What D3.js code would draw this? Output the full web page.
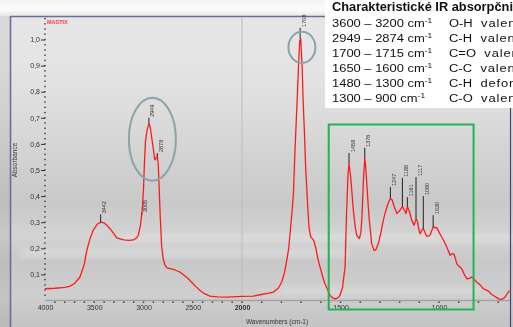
<!DOCTYPE html>
<html>
<head>
<meta charset="utf-8">
<script src="https://cdn.jsdelivr.net/npm/d3@7"></script>
<style>
    body { margin: 0; background: #fff; }
    svg { display: block; font-family: "Liberation Sans", Arial, sans-serif; }
</style>
</head>
<body>
<svg id="chart" width="513" height="327"></svg>
<script>
    // spectrum: wavenumber (cm-1) / absorbance
    var spectrumWn = [4000, 3900, 3800, 3750, 3700, 3645, 3600, 3577, 3540, 3510, 3470, 3435, 3400, 3370, 3340,
        3300, 3272, 3200, 3150, 3103, 3070, 3053, 3030, 3018, 3008, 3000, 2990, 2980, 2965, 2950, 2940, 2930,
        2915, 2900, 2888, 2883, 2870, 2860, 2850, 2840, 2830, 2815, 2800, 2782, 2760, 2731, 2690, 2650, 2629,
        2590, 2550, 2511, 2470, 2426, 2380, 2325, 2250, 2155, 2050, 2000, 1943, 1909, 1870, 1841, 1815, 1799,
        1785, 1773, 1763, 1756, 1745, 1739, 1731, 1720, 1712, 1707, 1702, 1695, 1690, 1683, 1677, 1668, 1660,
        1651, 1643, 1635, 1625, 1615, 1604, 1590, 1579, 1565, 1553, 1540, 1528, 1515, 1503, 1490, 1477, 1469,
        1462, 1457, 1448, 1435, 1425, 1418, 1404, 1397, 1392, 1383, 1377, 1373, 1367, 1360, 1354, 1342, 1330,
        1320, 1308, 1295, 1283, 1270, 1262, 1254, 1247, 1238, 1228, 1214, 1205, 1198, 1186, 1175, 1168, 1161,
        1150, 1139, 1127, 1117, 1110, 1102, 1096, 1086, 1080, 1068, 1062, 1052, 1046, 1036, 1030, 1018, 1012,
        1000, 992, 975, 961, 950, 944, 932, 924, 915, 910, 897, 885, 872, 859, 846, 834, 820, 808, 790, 775,
        760, 749, 736, 724, 705, 690, 678, 665, 655, 643];
    var spectrumAbs = [0.045, 0.047, 0.05, 0.054, 0.065, 0.09, 0.14, 0.19, 0.24, 0.27, 0.292, 0.3, 0.297, 0.288, 0.275,
        0.255, 0.24, 0.232, 0.23, 0.232, 0.24, 0.25, 0.29, 0.33, 0.37, 0.43, 0.53, 0.61, 0.65, 0.672, 0.675, 0.66,
        0.62, 0.58, 0.545, 0.538, 0.548, 0.554, 0.52, 0.42, 0.32, 0.205, 0.16, 0.135, 0.125, 0.122, 0.118, 0.112, 0.109,
        0.097, 0.085, 0.07, 0.054, 0.038, 0.026, 0.017, 0.014, 0.013, 0.015, 0.016, 0.017, 0.022, 0.027, 0.032, 0.048, 0.07,
        0.105, 0.154, 0.2, 0.256, 0.35, 0.41, 0.577, 0.77, 0.92, 0.995, 1.002, 0.9, 0.77, 0.64, 0.51, 0.38, 0.28,
        0.243, 0.237, 0.228, 0.2, 0.16, 0.128, 0.09, 0.064, 0.04, 0.019, 0.01, 0.006, 0.009, 0.019, 0.05, 0.128, 0.346,
        0.48, 0.526, 0.47, 0.346, 0.28, 0.25, 0.237, 0.26, 0.308, 0.474, 0.545, 0.52, 0.449, 0.37, 0.308, 0.218, 0.192,
        0.195, 0.218, 0.26, 0.308, 0.345, 0.365, 0.38, 0.391, 0.385, 0.36, 0.333, 0.34, 0.346, 0.36, 0.345, 0.333, 0.36,
        0.34, 0.308, 0.288, 0.31, 0.305, 0.27, 0.256, 0.27, 0.276, 0.255, 0.246, 0.248, 0.25, 0.27, 0.282, 0.278, 0.28,
        0.262, 0.25, 0.228, 0.205, 0.185, 0.173, 0.18, 0.177, 0.155, 0.141, 0.13, 0.122, 0.1, 0.083, 0.085, 0.09, 0.08, 0.07, 0.058, 0.045,
        0.04, 0.036, 0.025, 0.019, 0.01, 0.003, 0.006, 0.013, 0.025, 0.038];

    // peak labels: text, peak absorbance, top of the label line
    var peakNames = ["3442", "3005", "2949", "2878", "1708", "1458", "1376", "1247", "1186", "1161", "1117", "1080", "1030"];
    var peakWn = [3435, 3018, 2945, 2860, 1705, 1457, 1377, 1247, 1186, 1161, 1117, 1080, 1030];
    var peakAbs = [0.3, 0.33, 0.675, 0.554, 1.002, 0.526, 0.545, 0.391, 0.36, 0.36, 0.31, 0.276, 0.282];
    var peakTop = [0.33, 0.335, 0.70, 0.565, 1.045, 0.565, 0.585, 0.435, 0.47, 0.396, 0.473, 0.40, 0.327];

    var xTicks = [4000, 3500, 3000, 2500, 2000, 1500, 1000];
    var yTicks = [0.1, 0.2, 0.3, 0.4, 0.5, 0.6, 0.7, 0.8, 0.9, 1.0];

    var tableTitle = "Charakteristické IR absorpčni pásy";
    var tableRanges = ["3600 – 3200", "2949 – 2874", "1700 – 1715", "1650 – 1600", "1480 – 1300", "1300 – 900"];
    var tableGroups = ["O-H", "C-H", "C=O", "C-C", "C-H", "C-O"];
    var tableModes = ["valenční", "valenční", "valenční", "valenční", "deformační", "valenční"];

    var svg = d3.select("#chart");
    var W = 513, H = 327;

    // background, grey slide look
    var defs = svg.append("defs");
    var grad = defs.append("linearGradient").attr("id", "bg")
        .attr("x1", 0).attr("y1", 0).attr("x2", 0).attr("y2", 1);
    [[0, "#f3f3f3"], [0.03, "#fbfbfb"], [0.05, "#e6e6e6"], [0.2, "#e4e4e4"], [0.35, "#dcdcdc"],
     [0.5, "#d1d1d1"], [0.62, "#c9c9c9"], [0.72, "#d3d3d3"], [0.8, "#c8c8c8"], [0.9, "#cfcfcf"], [1, "#c3c3c3"]]
        .forEach(function(s){
            grad.append("stop").attr("offset", s[0]).attr("stop-color", s[1]);
        });
    defs.append("filter").attr("id", "blur").append("feGaussianBlur").attr("stdDeviation", 3);

    svg.append("rect").attr("width", W).attr("height", H).attr("fill", "url(#bg)");
    svg.append("rect").attr("x", 0).attr("y", 16).attr("width", 10).attr("height", H - 16)
        .attr("fill", "#000").attr("opacity", 0.05);

    // soft light streaks
    var streaks = [[20, 250, 330, 6], [120, 236, 420, 5], [280, 288, 200, 4]];
    svg.append("g").attr("filter", "url(#blur)").selectAll("rect")
        .data(streaks).enter().append("rect")
        .attr("x", function(d){ return d[0]; })
        .attr("y", function(d){ return d[1]; })
        .attr("width", function(d){ return d[2]; })
        .attr("height", function(d){ return d[3]; })
        .attr("fill", "#fff").attr("opacity", 0.35);

    // frame
    svg.append("line").attr("x1", 10.5).attr("x2", 10.5).attr("y1", 16).attr("y2", H)
        .attr("stroke", "#6d6d9c").attr("stroke-width", 1.6);
    svg.append("line").attr("x1", 10).attr("x2", 330).attr("y1", 16.5).attr("y2", 16.5)
        .attr("stroke", "#6d6d9c").attr("stroke-width", 1.6);
    svg.append("line").attr("x1", 510.5).attr("x2", 510.5).attr("y1", 100).attr("y2", H)
        .attr("stroke", "#45457a").attr("stroke-width", 1.2);

    // scales, x has the usual FTIR scale change at 2000
    var x = d3.scaleLinear().domain([4000, 2000, 640]).range([45, 242, 510]);
    var y = d3.scaleLinear().domain([0, 1]).range([300.5, 39.5]);

    svg.append("line").attr("x1", x(2000)).attr("x2", x(2000)).attr("y1", 17).attr("y2", H)
        .attr("stroke", "#bdbdbd").attr("stroke-width", 1);

    // x axis
    svg.append("line").attr("x1", 45).attr("x2", 510).attr("y1", 300.5).attr("y2", 300.5)
        .attr("stroke", "#a3a3a3").attr("stroke-width", 1.5);
    svg.append("g").selectAll("rect")
        .data(d3.range(3900, 640, -100)).enter().append("rect")
        .attr("x", function(d){ return x(d) - 0.7; })
        .attr("y", 301.5).attr("width", 1.4).attr("height", 1.4)
        .attr("fill", "#333");

    var xAxis = svg.append("g").attr("transform", "translate(0,301)")
        .call(d3.axisBottom(x).tickValues(xTicks).tickSize(0).tickPadding(4).tickFormat(d3.format("d")));
    xAxis.select(".domain").remove();
    xAxis.selectAll("text").attr("font-size", 7).attr("fill", "#333")
        .attr("font-family", "Liberation Sans, Arial, sans-serif")
        .attr("font-weight", function(d){ return d === 2000 ? "bold" : "normal"; });

    // y axis
    var comma = d3.formatLocale({decimal: ",", thousands: ".", grouping: [3], currency: ["", ""]}).format(".1f");
    svg.append("g").selectAll("rect")
        .data(d3.range(1, 55)).enter().append("rect")
        .attr("x", 44.3).attr("width", 1.4).attr("height", 1.4)
        .attr("y", function(d){ return y(d * 0.02) - 0.7; })
        .attr("fill", "#333");
    var yAxis = svg.append("g").attr("transform", "translate(45,0)")
        .call(d3.axisLeft(y).tickValues(yTicks).tickSize(4).tickPadding(1).tickFormat(comma));
    yAxis.select(".domain").remove();
    yAxis.selectAll("line").attr("stroke", "#333");
    yAxis.selectAll("text").attr("font-size", 7).attr("fill", "#333")
        .attr("font-family", "Liberation Sans, Arial, sans-serif");

    svg.append("text").attr("transform", "translate(17,160) rotate(-90)")
        .attr("text-anchor", "middle").attr("font-size", 6.5).attr("fill", "#333")
        .text("Absorbance");
    svg.append("text").attr("x", 277).attr("y", 324)
        .attr("text-anchor", "middle").attr("font-size", 6.5).attr("fill", "#333")
        .text("Wavenumbers (cm-1)");
    svg.append("text").attr("x", 47).attr("y", 24)
        .attr("font-size", 5.5).attr("font-weight", "bold").attr("fill", "#ff3b3b")
        .text("MASTIX");

    // spectrum
    var line = d3.line()
        .x(function(d){ return x(d[0]); })
        .y(function(d){ return y(d[1]); });
    svg.append("path")
        .datum(d3.zip(spectrumWn, spectrumAbs))
        .attr("d", line)
        .attr("fill", "none").attr("stroke", "#ff1a1a").attr("stroke-width", 1.3)
        .attr("stroke-linejoin", "round");

    // peak markers
    var peaks = svg.append("g").selectAll("g")
        .data(d3.range(peakNames.length)).enter().append("g");
    peaks.append("line")
        .attr("x1", function(i){ return x(peakWn[i]); })
        .attr("x2", function(i){ return x(peakWn[i]); })
        .attr("y1", function(i){ return y(peakAbs[i]); })
        .attr("y2", function(i){ return y(peakTop[i]); })
        .attr("stroke", "#222").attr("stroke-width", 1);
    peaks.append("text")
        .attr("transform", function(i){
            return "translate(" + (x(peakWn[i]) + 5.5) + "," + (y(peakTop[i]) - 1) + ") rotate(-90)";
        })
        .attr("font-size", 5.5).attr("fill", "#333")
        .text(function(i){ return peakNames[i]; });

    // highlight marks (centre wavenumber / absorbance, radii in px)
    var ellipses = [[2910, 0.618, 23.5, 41.5], [1696, 0.97, 13.5, 15.5]];
    svg.append("g").selectAll("ellipse")
        .data(ellipses).enter().append("ellipse")
        .attr("cx", function(d){ return x(d[0]); })
        .attr("cy", function(d){ return y(d[1]); })
        .attr("rx", function(d){ return d[2]; })
        .attr("ry", function(d){ return d[3]; })
        .attr("fill", "none").attr("stroke", "#88a5a8").attr("stroke-width", 2);

    svg.append("rect")
        .attr("x", x(1560)).attr("y", 124.5)
        .attr("width", x(825) - x(1560)).attr("height", 185)
        .attr("fill", "none").attr("stroke", "#1fb552").attr("stroke-width", 2);

    // table of characteristic bands, text is stretched sideways like in the slide
    svg.append("rect").attr("x", 325).attr("y", 0).attr("width", W - 325).attr("height", 108)
        .attr("fill", "#fff");
    svg.append("text").attr("transform", "translate(332,10.5) scale(1.07,1)")
        .attr("font-size", 12).attr("font-weight", "bold").attr("fill", "#111")
        .text(tableTitle);
    var rows = svg.append("g").selectAll("g")
        .data(tableRanges).enter().append("g")
        .attr("transform", function(d, i){ return "translate(0," + (26.5 + i * 15) + ")"; });
    var rangeText = rows.append("text").attr("transform", "translate(332,0) scale(1.2,1)")
        .attr("font-size", 10.8).attr("fill", "#111");
    rangeText.append("tspan").text(function(d){ return d + " cm"; });
    rangeText.append("tspan").attr("font-size", 7).attr("dy", -3.8).text("-1");
    var groupText = rows.append("text").attr("transform", "translate(449,0) scale(1.2,1)")
        .attr("font-size", 10.8).attr("fill", "#111");
    groupText.append("tspan").text(function(d, i){ return tableGroups[i]; });
    groupText.append("tspan").attr("dx", 7).attr("letter-spacing", 0.7)
        .text(function(d, i){ return tableModes[i]; });
</script>
</body>
</html>
